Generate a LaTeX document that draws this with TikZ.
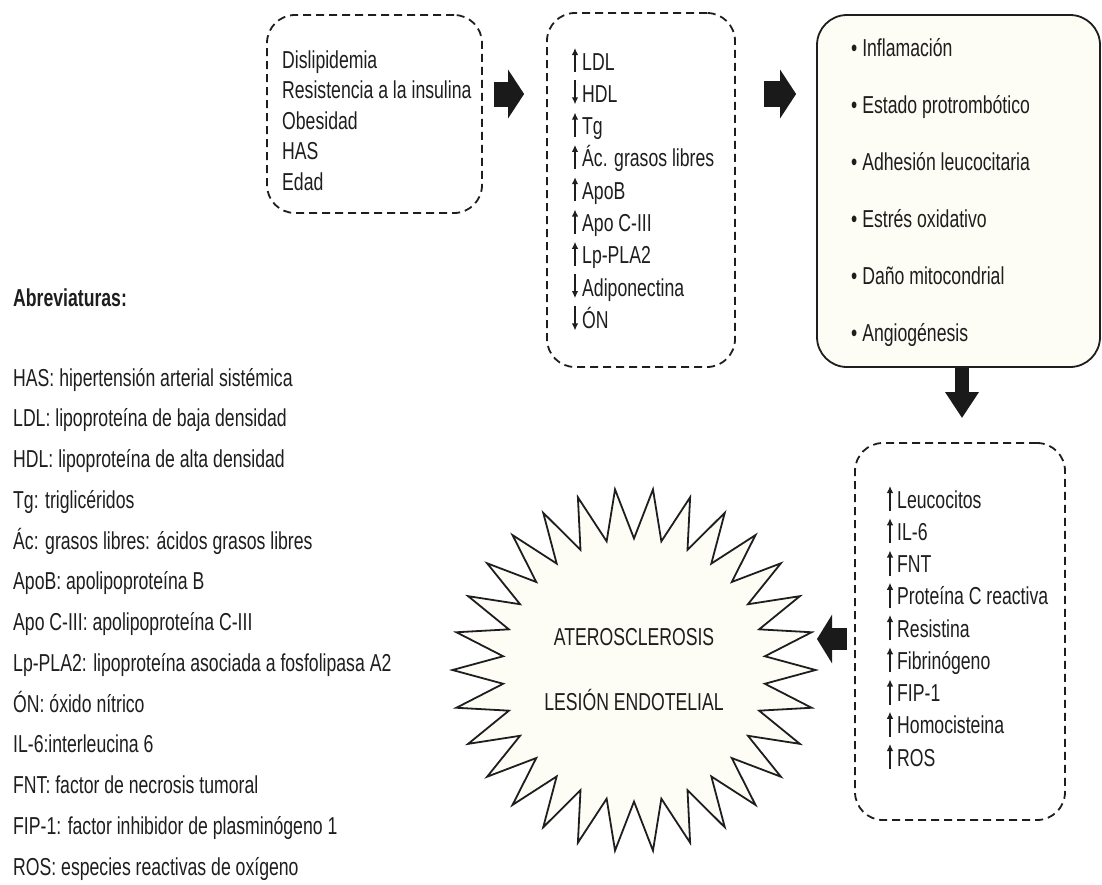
\documentclass[tikz,border=0pt]{standalone}
\usepackage{fontspec}
\setmainfont{Liberation Sans}[FakeStretch=0.72]
\usepackage{tikz}
\usetikzlibrary{arrows.meta, positioning, shapes.geometric}
\usepackage{xcolor}
\definecolor{inkgray}{RGB}{30, 30, 30}
\definecolor{paleivory}{RGB}{253, 253, 246}
\definecolor{arrowblack}{RGB}{26, 26, 26}
\newcommand{\txtsize}{\fontsize{24.5}{30}\selectfont}

\tikzset{
  dashbox/.style={draw=inkgray, line width=1.8pt, dash pattern=on 8pt off 5pt,
                  rounded corners=28pt, inner sep=0pt},
  solidbox/.style={draw=inkgray, line width=1.8pt, fill=paleivory,
                   rounded corners=30pt, inner sep=0pt},
  item/.style={anchor=base west, inner sep=0pt, text=inkgray, font=\txtsize},
  itemarrow/.style={inkgray, line width=1.2pt, -{Latex[length=7pt, width=6.5pt]}},
}

\begin{document}
\begin{tikzpicture}[x=1pt, y=-1pt]
  \useasboundingbox (0,0) rectangle (1102,884);

  %--- boxes ---
  \node[dashbox, minimum width=215pt, minimum height=198pt] (causes) at (374.5,114) {};
  \node[dashbox, minimum width=188pt, minimum height=354pt] (lipids) at (641,190) {};
  \node[solidbox, minimum width=283pt, minimum height=352pt] (effects) at (958.5,191) {};
  \node[dashbox, minimum width=210pt, minimum height=377pt] (markers) at (960,631.5) {};

  %--- star ---
  \node[star, star points=30, star point ratio=1.38, shape border rotate=6,
        minimum size=340pt, draw=inkgray, line width=1.8pt, fill=paleivory,
        align=center, text=inkgray, font=\fontsize{24.5}{65}\selectfont]
    (athero) at (634,670) {ATEROSCLEROSIS\\LESIÓN ENDOTELIAL};
  \coordinate (startip) at (817,639);

  %--- causes ---
  \foreach \t [count=\i from 0] in {Dislipidemia, Resistencia a la insulina,
      Obesidad, HAS, Edad}
    \node[item] (cause-\i) at (282, 68+30.5*\i) {\t};

  %--- lipid profile ---
  \foreach \t/\s [count=\i from 0] in {LDL/1, HDL/-1, Tg/1, Ác. grasos libres/1,
      ApoB/1, Apo C-III/1, Lp-PLA2/1, Adiponectina/-1, ÓN/-1}{
    \node[item] (lip-\i) at (582, 70+32.3*\i) {\t};
    \draw[itemarrow] (575, 60+32.3*\i+12*\s) -- (575, 60+32.3*\i-12*\s);
  }

  %--- effects ---
  \foreach \t [count=\i from 0] in {Inflamación, Estado protrombótico,
      Adhesión leucocitaria, Estrés oxidativo, Daño mitocondrial, Angiogénesis}
    \node[item] (eff-\i) at (851, 56+57*\i) {•\ \t};

  %--- markers ---
  \foreach \t [count=\i from 0] in {Leucocitos, IL-6, FNT, Proteína C reactiva,
      Resistina, Fibrinógeno, FIP-1, Homocisteina, ROS}{
    \node[item] (mark-\i) at (897, 508+32.25*\i) {\t};
    \draw[itemarrow] (890, 511+32.25*\i) -- (890, 486+32.25*\i);
  }

  %--- block arrows ---
  \draw[arrowblack, line width=25pt, -{Triangle[length=16pt, width=48pt]},
        shorten <=11pt, shorten >=22pt]
    (causes.east |- 0,94) -- (lipids.west |- 0,94);
  \draw[arrowblack, line width=26pt, -{Triangle[length=16pt, width=48pt]},
        shorten <=28pt, shorten >=20pt]
    (lipids.east |- 0,94) -- (effects.west |- 0,94);
  \draw[arrowblack, line width=14pt, -{Triangle[length=26pt, width=32pt]},
        shorten >=24pt]
    (effects.south -| 962,0) -- (markers.north -| 962,0);
  \draw[arrowblack, line width=22pt, -{Triangle[length=15pt, width=48pt]},
        shorten <=7pt]
    (markers.west |- 0,639) -- (startip);

  %--- abbreviations ---
  \node[item, font=\txtsize\bfseries] (abbr-title) at (13, 306) {Abreviaturas:};
  \foreach \t [count=\i from 0] in {HAS: hipertensión arterial sistémica,
      LDL: lipoproteína de baja densidad, HDL: lipoproteína de alta densidad,
      Tg: triglicéridos, Ác: grasos libres: ácidos grasos libres,
      ApoB: apolipoproteína B, Apo C-III: apolipoproteína C-III,
      Lp-PLA2: lipoproteína asociada a fosfolipasa A2, ÓN: óxido nítrico,
      IL-6:interleucina 6, FNT: factor de necrosis tumoral,
      FIP-1: factor inhibidor de plasminógeno 1,
      ROS: especies reactivas de oxígeno}
    \node[item] (abbr-\i) at (13, 386+40.75*\i) {\t};
\end{tikzpicture}
\end{document}
